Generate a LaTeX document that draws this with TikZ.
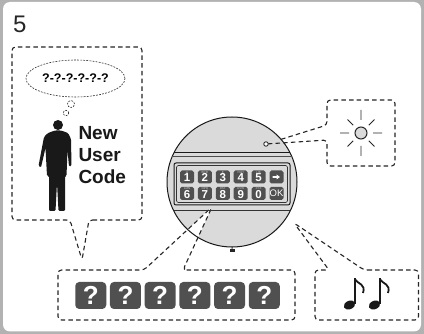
\documentclass[tikz,border=0pt]{standalone}
\usepackage{fontspec}
\setmainfont{Liberation Sans}
\usetikzlibrary{positioning}
\usetikzlibrary{shapes.geometric}

\definecolor{framegray}{HTML}{B2B2B2}
\definecolor{lockgray}{HTML}{DADADA}
\definecolor{keygray}{HTML}{505050}

\tikzset{
    area/.style={
        inner sep=0pt,
        outer sep=0pt
    },
    callout/.style={
        draw=black!85,
        fill=white,
        line width=1.1pt,
        dash pattern=on 4.5pt off 3.2pt,
        rounded corners=3.5pt
    },
    bubble/.style={
        draw=black!85,
        line width=0.6pt,
        dash pattern=on 1.8pt off 1.3pt
    },
    key/.style={
        fill=keygray,
        rounded corners=1.8pt,
        minimum width=14pt,
        minimum height=13pt,
        inner sep=0pt,
        text=white,
        text height=10pt,
        text depth=0pt,
        font=\bfseries\fontsize{11.5}{11.5}\selectfont
    },
    keytag/.style={
        anchor=north,
        inner sep=0.5pt,
        text=white!80!black,
        font=\fontsize{3}{3}\selectfont
    },
    qbox/.style={
        fill=keygray,
        rounded corners=4pt,
        minimum width=31pt,
        minimum height=27pt,
        inner sep=0pt,
        text=white,
        font=\bfseries\fontsize{26}{26}\selectfont
    }
}

\begin{document}
\begin{tikzpicture}[x=1pt, y=-1pt]
    \useasboundingbox (0,0) rectangle (424,334);
    \fill[framegray] (0,0) rectangle (424,334);
    \fill[white, rounded corners=7pt] (3,2) rectangle (421,331.5);

    \node[anchor=base west, inner sep=0pt, text=black!85, font=\fontsize{24}{24}\selectfont] (step) at (13,33) {5};

    % lock body
    \node[circle, fill=lockgray, minimum size=130pt, area] (lock) at (232,182) {};

    % code entry callout
    \node[area, minimum width=237pt, minimum height=50pt] (codebox) at (176.5,295) {};
    \coordinate (keytip) at (212,207);
    \draw[callout] ([xshift=6.5pt]codebox.north) -- (codebox.north east) -- (codebox.south east)
        -- (codebox.south west) -- (codebox.north west) -- ([xshift=-32.5pt]codebox.north)
        -- (keytip) -- cycle;

    \draw[black!90, line width=1pt] (lock.center) circle[radius=65pt];
    \begin{scope}
        \clip (lock.center) circle[radius=65pt];
        \draw[black!90, line width=1.3pt] (160,152.5) -- (300,152.5);
        \draw[black!70, line width=0.5pt] (160,156) -- (300,156);
        \draw[black!80, line width=0.7pt] (160,210) -- (300,210);
    \end{scope}

    % keypad
    \node[draw=black!90, line width=1pt, fill=lockgray, rounded corners=2pt, minimum width=116pt, minimum height=42pt, area] (keypad) at (232,184) {};
    \node[draw=black!80, line width=0.6pt, rounded corners=1.5pt, minimum width=111pt, minimum height=37pt, area] (keyframe) at (keypad.center) {};

    \node[key, label={[keytag]north:A}] (k1) at (187,177) {1};
    \node[key, right=3.5pt of k1, label={[keytag]north:BCD}] (k2) {2};
    \node[key, right=3.5pt of k2, label={[keytag]north:E}] (k3) {3};
    \node[key, right=3.5pt of k3, label={[keytag]north:FGH}] (k4) {4};
    \node[key, right=3.5pt of k4, label={[keytag]north:IJK}] (k5) {5};
    \node[key, right=3.5pt of k5] (kgo) {};
    \node[key, below=3pt of k1, label={[keytag]north:LMN}] (k6) {6};
    \node[key, right=3.5pt of k6, label={[keytag]north:OPQ}] (k7) {7};
    \node[key, right=3.5pt of k7, label={[keytag]north:RST}] (k8) {8};
    \node[key, right=3.5pt of k8, label={[keytag]north:UVW}] (k9) {9};
    \node[key, right=3.5pt of k9, label={[keytag]north:XYZ}] (k0) {0};
    \node[key, right=3.5pt of k0, text height=6.8pt, font=\fontsize{9.5}{9.5}\selectfont] (kok) {OK};
    \fill[white] ([shift={(-4,-0.9)}]kgo.center) -- ++(4,0) -- ++(0,-1.6) -- ++(3.5,2.5)
        -- ++(-3.5,2.5) -- ++(0,-1.6) -- ++(-4,0) -- cycle;

    \node[circle, draw=black!90, line width=0.8pt, fill=white, minimum size=4.5pt, area] (led) at (266,144) {};
    \node[fill=black!85, minimum width=4.5pt, minimum height=3.5pt, area] (knob) at (232.5,250.5) {};
    \draw[black!85, line width=1pt] (lock.south) -- (knob);

    % light callout
    \node[area, minimum width=68pt, minimum height=66pt] (lightbox) at (361,133) {};
    \draw[callout, fill=none] (lock.41) -- ([yshift=8pt]lightbox.west) -- (lightbox.north west)
        -- (lightbox.north east) -- (lightbox.south east) -- (lightbox.south west)
        -- ([yshift=-7pt]lightbox.west) -- (led);
    \node[circle, draw=black!85, line width=1pt, fill=lockgray, minimum size=12pt, area] (bulb) at (lightbox.center) {};
    \draw[black!85, line width=0.9pt]
        (bulb.center) ++(0:12) -- ++(0:9)      (bulb.center) ++(180:12) -- ++(180:9)
        (bulb.center) ++(90:13) -- ++(90:10)   (bulb.center) ++(270:13) -- ++(270:10)
        (bulb.center) ++(45:11) -- ++(45:8)    (bulb.center) ++(135:11) -- ++(135:8)
        (bulb.center) ++(225:11) -- ++(225:8)  (bulb.center) ++(315:11) -- ++(315:8);

    % tone callout
    \node[area, minimum width=103.5pt, minimum height=50pt] (tonebox) at (366.75,295) {};
    \coordinate (tonetip) at (294,223);
    \draw[callout] ([xshift=-2.75pt]tonebox.north) -- (tonebox.north east) -- (tonebox.south east)
        -- (tonebox.south west) -- (tonebox.north west) -- ([xshift=-37.75pt]tonebox.north)
        -- (tonetip) -- cycle;
    \fill[black!90, rotate around={25:(349.5,305)}] (349.5,305) ellipse (6 and 4.2);
    \draw[black!90, line width=1.7pt] (355,304) -- (355,278.5);
    \draw[black!90, line width=1.8pt] (355,279.5) .. controls (358,284) and (366,284) .. (363,293);
    \fill[black!90, rotate around={25:(374.5,305)}] (374.5,305) ellipse (6 and 4.2);
    \draw[black!90, line width=1.7pt] (380,304) -- (380,278.5);
    \draw[black!90, line width=1.8pt] (380,279.5) .. controls (383,284) and (391,284) .. (388,293);

    % user callout
    \node[area, minimum width=130pt, minimum height=173pt] (userbox) at (77,133.5) {};
    \coordinate (usertip) at (82,260);
    \draw[callout] ([xshift=12pt]userbox.south) -- (userbox.south east) -- (userbox.north east)
        -- (userbox.north west) -- (userbox.south west) -- ([xshift=-7pt]userbox.south)
        -- (usertip) -- cycle;

    \node[bubble, ellipse, minimum width=99pt, minimum height=37pt, inner sep=0pt, font=\bfseries\fontsize{12.5}{12.5}\selectfont] (thought) at (75.5,78.5) {?-?-?-?-?-?};
    \node[bubble, circle, minimum size=7pt, area] (puff1) at (71,104) {};
    \node[bubble, circle, minimum size=5.5pt, area] (puff2) at (66,113) {};

    \node[circle, fill=black!90, minimum size=10pt, area] (head) at (58,125) {};
    \fill[black!90, rounded corners=1.2pt]
        (55,130.5) -- (48,133) -- (44,137) -- (38.5,166) -- (41,167.5) -- (45.5,148) -- (47,176)
        -- (49,176) -- (49,211) -- (55.5,211) -- (57,183) -- (58.5,211) -- (65,211) -- (65,176)
        -- (66.5,176) -- (67.5,150) -- (69,166.5) -- (71.5,166) -- (71,139) -- (68,133) -- (61,130.5) -- cycle;

    \node[anchor=north west, align=left, area, text=black!90, font=\bfseries\fontsize{19}{22}\selectfont] (newcode) at (78.5,126.5) {New\\User\\Code};

    % code squares
    \node[qbox] (q1) at (90.75,295.5) {?};
    \node[qbox, right=3.3pt of q1] (q2) {?};
    \node[qbox, right=3.3pt of q2] (q3) {?};
    \node[qbox, right=3.3pt of q3] (q4) {?};
    \node[qbox, right=3.3pt of q4] (q5) {?};
    \node[qbox, right=3.3pt of q5] (q6) {?};
\end{tikzpicture}
\end{document}
